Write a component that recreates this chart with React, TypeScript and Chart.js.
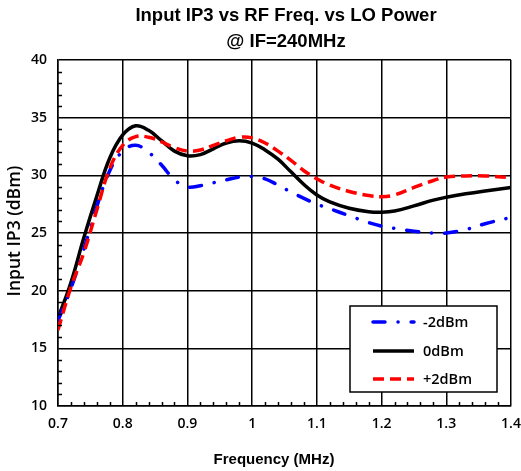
import React, { useEffect, useRef } from 'react';
import { Chart, registerables } from 'chart.js';

Chart.register(...registerables);

// ---- data ----
const freq = [
  0.70, 0.72, 0.74, 0.76, 0.78, 0.80, 0.82, 0.84, 0.86, 0.88, 0.90, 0.92, 0.94, 0.96, 0.98,
  1.00, 1.02, 1.04, 1.06, 1.08, 1.10, 1.12, 1.15, 1.18, 1.20, 1.22, 1.25, 1.28, 1.30, 1.33,
  1.36, 1.40,
];
const iip3LoMinus2 = [
  17.4, 20.2, 23.6, 27.3, 30.4, 32.1, 32.6, 32.0, 30.9, 29.6, 29.0, 29.1, 29.35, 29.6, 29.85,
  29.9, 29.7, 29.15, 28.55, 28.0, 27.5, 27.1, 26.5, 25.9, 25.6, 25.4, 25.15, 25.0, 25.0, 25.3,
  25.8, 26.35,
];
const iip3Lo0 = [
  17.6, 20.7, 24.6, 28.2, 31.5, 33.5, 34.3, 33.9, 33.0, 32.1, 31.7, 31.8, 32.3, 32.8, 33.0,
  32.8, 32.2, 31.4, 30.3, 29.2, 28.3, 27.7, 27.15, 26.85, 26.8, 26.9, 27.35, 27.85, 28.1, 28.4,
  28.65, 28.95,
];
const iip3LoPlus2 = [
  16.6, 20.3, 23.3, 27.0, 30.6, 32.6, 33.35, 33.3, 32.9, 32.4, 32.1, 32.2, 32.6, 33.0, 33.3,
  33.25, 32.8, 32.1, 31.3, 30.4, 29.7, 29.15, 28.6, 28.25, 28.15, 28.3, 28.95, 29.55, 29.85, 29.95,
  29.95, 29.8,
];
const seriesLabels = ['-2dBm', '0dBm', '+2dBm'];
const xTickValues = [0.7, 0.8, 0.9, 1.0, 1.1, 1.2, 1.3, 1.4];
const yTickValues = [10, 15, 20, 25, 30, 35, 40];
const xMinorStep = 0.02;
const yMinorStep = 1;
const titleLines = ['Input IP3 vs RF Freq. vs LO Power', '@ IF=240MHz'];
const xTitle = 'Frequency (MHz)';
const yTitle = 'Input IP3 (dBm)';

const tickFont = { family: '"Open Sans", sans-serif', size: 14, weight: 600 as any };

const decorPlugin = {
  id: 'decor',
  afterDraw(chart: any) {
    const { ctx, chartArea: ca, scales } = chart;
    const xs = scales.x;
    const ys = scales.y;
    ctx.save();
    // minor ticks
    ctx.strokeStyle = '#000';
    ctx.lineWidth = 1.5;
    ctx.beginPath();
    for (let v = 10 + yMinorStep; v < 40; v += yMinorStep) {
      if (Math.abs(v % 5) < 1e-6) continue;
      const y = Math.round(ys.getPixelForValue(v)) + 0.5;
      ctx.moveTo(ca.left, y);
      ctx.lineTo(ca.left + 4, y);
    }
    for (let i = 1; i < 35; i++) {
      if (i % 5 === 0) continue;
      const v = 0.7 + i * xMinorStep;
      const x = Math.round(xs.getPixelForValue(v)) + 0.5;
      ctx.moveTo(x, ca.bottom);
      ctx.lineTo(x, ca.bottom - 4);
    }
    ctx.stroke();

    // title
    const cx = (ca.left + ca.right) / 2 + 1.5;
    ctx.fillStyle = '#000';
    ctx.textAlign = 'center';
    ctx.textBaseline = 'alphabetic';
    ctx.font = 'bold 18.5px "Liberation Sans", Arial, sans-serif';
    ctx.fillText(titleLines[0], cx, 21);
    ctx.fillText(titleLines[1], cx, 47);

    // x title
    ctx.font = 'bold 15px "Liberation Sans", Arial, sans-serif';
    ctx.fillText(xTitle, cx - 12, 464);

    // y title
    ctx.save();
    ctx.translate(15, (ca.top + ca.bottom) / 2 - 2);
    ctx.rotate(-Math.PI / 2);
    ctx.textAlign = 'center';
    ctx.textBaseline = 'middle';
    ctx.font = '600 17.5px "Open Sans", sans-serif';
    ctx.fillText(yTitle, 0, 0);
    ctx.restore();

    // legend
    const lx = ca.right - 161;
    const ly = ca.bottom - 100;
    const w = 147;
    const h = 86;
    ctx.fillStyle = '#fff';
    ctx.fillRect(lx, ly, w, h);
    ctx.strokeStyle = '#000';
    ctx.lineWidth = 1.5;
    ctx.setLineDash([]);
    ctx.strokeRect(lx, ly, w, h);
    const rows = [ly + 16, ly + 45, ly + 73];
    chart.data.datasets.forEach((ds: any, i: number) => {
      const y = rows[i];
      ctx.beginPath();
      ctx.setLineDash(ds.borderDash || []);
      ctx.lineCap = ds.borderCapStyle || 'butt';
      ctx.lineWidth = ds.borderWidth;
      ctx.strokeStyle = ds.borderColor;
      ctx.moveTo(lx + 23, y);
      ctx.lineTo(lx + 64, y);
      ctx.stroke();
      ctx.setLineDash([]);
      ctx.fillStyle = '#000';
      ctx.textAlign = 'left';
      ctx.textBaseline = 'middle';
      ctx.font = '600 14.5px "Open Sans", sans-serif';
      ctx.fillText(ds.label, lx + 73, y + 1);
    });
    ctx.restore();
  },
};

export default function App() {
  const ref = useRef<HTMLCanvasElement>(null);
  useEffect(() => {
    const mk = (ys: number[]) => freq.map((x, i) => ({ x, y: ys[i] }));
    const chart = new Chart(ref.current as HTMLCanvasElement, {
      type: 'line',
      data: {
        datasets: [
          {
            label: seriesLabels[0],
            data: mk(iip3LoMinus2),
            borderColor: '#0000ff',
            borderWidth: 3.5,
            borderDash: [12, 13, 0.1, 13],
            borderCapStyle: 'round',
            pointRadius: 0,
            tension: 0.4,
            order: 2,
          } as any,
          {
            label: seriesLabels[1],
            data: mk(iip3Lo0),
            borderColor: '#000000',
            borderWidth: 3.5,
            pointRadius: 0,
            tension: 0.4,
            order: 3,
          },
          {
            label: seriesLabels[2],
            data: mk(iip3LoPlus2),
            borderColor: '#ff0000',
            borderWidth: 3.5,
            borderDash: [11, 6],
            pointRadius: 0,
            tension: 0.4,
            order: 1,
          },
        ],
      },
      options: {
        responsive: false,
        animation: false,
        events: [],
        layout: { padding: { top: 60, right: 10, left: 0, bottom: 0 } },
        plugins: { legend: { display: false }, title: { display: false }, tooltip: { enabled: false } },
        scales: {
          x: {
            type: 'linear',
            min: 0.7,
            max: 1.4,
            afterBuildTicks: (s: any) => { s.ticks = xTickValues.map((v) => ({ value: v })); },
            afterFit: (s: any) => { s.height = 65; s.paddingLeft = 0; s.paddingRight = 0; },
            ticks: {
              padding: 10,
              color: '#000',
              font: tickFont,
              maxRotation: 0,
              callback: (v: any) => String(Number(Number(v).toFixed(2))),
            },
            grid: { color: '#000', lineWidth: 1.5, drawTicks: false },
            border: { color: '#000', width: 1.5 },
          },
          y: {
            min: 10,
            max: 40,
            afterBuildTicks: (s: any) => { s.ticks = yTickValues.map((v) => ({ value: v })); },
            afterFit: (s: any) => { s.width = 58; s.paddingTop = 0; s.paddingBottom = 0; },
            ticks: { padding: 11, color: '#000', font: tickFont },
            grid: { color: '#000', lineWidth: 1.5, drawTicks: false },
            border: { color: '#000', width: 1.5 },
          },
        },
      },
      plugins: [decorPlugin],
    });
    return () => chart.destroy();
  }, []);
  return (
    <div style={{ position: 'fixed', left: 0, top: 0, width: 521, height: 471, background: '#fff' }}>
      <canvas ref={ref} width={521} height={471} style={{ display: 'block' }} />
    </div>
  );
}
